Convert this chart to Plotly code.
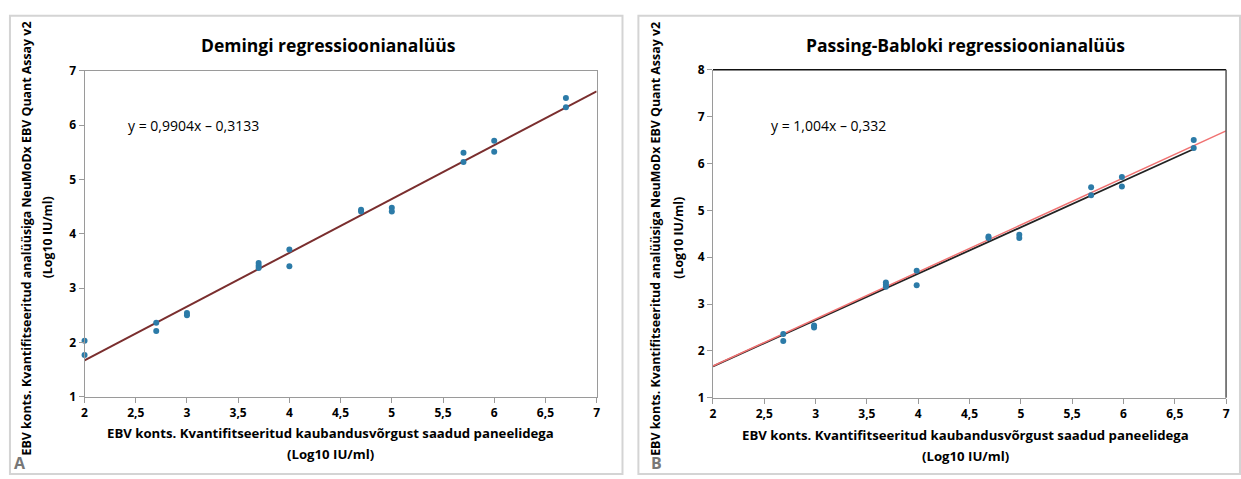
import plotly.graph_objects as go

# ---- data ----
panel_x = [2, 2, 2.7, 2.7, 3, 3, 3.7, 3.7, 3.7, 4, 4, 4.7, 4.7, 5, 5, 5.7, 5.7, 6, 6, 6.7, 6.7]
panel_y = [2.03, 1.77, 2.36, 2.21, 2.54, 2.50, 3.46, 3.41, 3.37, 3.71, 3.40,
           4.44, 4.41, 4.48, 4.41, 5.49, 5.32, 5.71, 5.51, 6.50, 6.33]

deming_slope, deming_intercept = 0.9904, -0.3133
pb_slope, pb_intercept = 1.004, -0.332

titles = ["Demingi regressioonianalüüs", "Passing-Babloki regressioonianalüüs"]
equations = ["y = 0,9904x – 0,3133", "y = 1,004x – 0,332"]
x_tickvals = [2, 2.5, 3, 3.5, 4, 4.5, 5, 5.5, 6, 6.5, 7]
x_ticktext = ["2", "2,5", "3", "3,5", "4", "4,5", "5", "5,5", "6", "6,5", "7"]
yA_tickvals = [1, 2, 3, 4, 5, 6, 7]
yB_tickvals = [1, 2, 3, 4, 5, 6, 7, 8]
x_title_lines = ["EBV konts. Kvantifitseeritud kaubandusvõrgust saadud paneelidega", "(Log10 IU/ml)"]
y_title_lines = ["EBV konts. Kvantifitseeritud analüüsiga NeuMoDx EBV Quant Assay v2", "(Log10 IU/ml)"]

W, H = 1241, 479
FONT = "Open Sans"
PT_COLOR = "#2C7BA8"
AX_COLOR = "#9a9a9a"

def px(x):
    return x / W

def py(y):
    return 1 - y / H

fig = go.Figure()

# Panel A
line_x_A = [2, 7]
fig.add_trace(go.Scatter(x=line_x_A, y=[deming_slope * v + deming_intercept for v in line_x_A],
                         mode="lines", line=dict(color="#7A2E2E", width=2),
                         xaxis="x", yaxis="y", showlegend=False))
fig.add_trace(go.Scatter(x=panel_x, y=panel_y, mode="markers", cliponaxis=False,
                         marker=dict(color=PT_COLOR, size=6),
                         xaxis="x", yaxis="y", showlegend=False))

# Panel B
line_x_B_black = [2, max(panel_x) - 0.02]
line_x_B_red = [2, 7]
fig.add_trace(go.Scatter(x=line_x_B_black, y=[deming_slope * v + deming_intercept for v in line_x_B_black],
                         mode="lines", line=dict(color="#222222", width=1.8),
                         xaxis="x2", yaxis="y2", showlegend=False))
fig.add_trace(go.Scatter(x=line_x_B_red, y=[pb_slope * v + pb_intercept for v in line_x_B_red],
                         mode="lines", line=dict(color="#F07272", width=1.5),
                         xaxis="x2", yaxis="y2", showlegend=False))
fig.add_trace(go.Scatter(x=[v - 0.015 for v in panel_x], y=panel_y, mode="markers", cliponaxis=False,
                         marker=dict(color=PT_COLOR, size=6),
                         xaxis="x2", yaxis="y2", showlegend=False))

tickfont = dict(family=FONT, size=12, color="#000000", weight="bold")
common_axis = dict(showgrid=False, zeroline=False, showline=True, linecolor=AX_COLOR, linewidth=1,
                   ticks="outside", ticklen=5, tickcolor=AX_COLOR, tickwidth=1,
                   tickfont=tickfont)

fig.update_layout(
    width=W, height=H,
    margin=dict(l=0, r=0, t=0, b=0),
    paper_bgcolor="white", plot_bgcolor="white",
    xaxis=dict(domain=[px(82), px(597)], range=[2, 7], tickvals=x_tickvals, ticktext=x_ticktext,
               anchor="y", mirror=True, **common_axis),
    yaxis=dict(domain=[py(402), py(64)], range=[1, 7], tickvals=yA_tickvals,
               anchor="x", mirror=True, **common_axis),
    xaxis2=dict(domain=[px(714), px(1230)], range=[2, 7], tickvals=x_tickvals, ticktext=x_ticktext,
                anchor="y2", **common_axis),
    yaxis2=dict(domain=[py(403), py(63)], range=[1, 8], tickvals=yB_tickvals,
                anchor="x2", **common_axis),
)

shapes = []
# panel frames
shapes.append(dict(type="rect", xref="paper", yref="paper", x0=px(7), x1=px(623), y0=py(482), y1=py(7),
                   line=dict(color="#d4d4d4", width=2), layer="below"))
shapes.append(dict(type="rect", xref="paper", yref="paper", x0=px(639), x1=px(1244), y0=py(482), y1=py(7),
                   line=dict(color="#d4d4d4", width=2), layer="below"))
# panel B top/right border
shapes.append(dict(type="line", xref="x2 domain", yref="y2 domain", x0=0, x1=1, y0=1, y1=1,
                   line=dict(color="#111111", width=1.5)))
shapes.append(dict(type="line", xref="x2 domain", yref="y2 domain", x0=1, x1=1, y0=0, y1=1,
                   line=dict(color="#555555", width=1.5)))
fig.update_layout(shapes=shapes)

ann = []
title_font = dict(family=FONT, size=17.5, color="#000000")
ann.append(dict(text="<b>%s</b>" % titles[0], x=px(327), y=py(37), xref="paper", yref="paper",
                showarrow=False, font=title_font, xanchor="center", yanchor="middle"))
ann.append(dict(text="<b>%s</b>" % titles[1], x=px(968), y=py(37), xref="paper", yref="paper",
                showarrow=False, font=title_font, xanchor="center", yanchor="middle"))

eq_font = dict(family=FONT, size=14, color="#000000")
ann.append(dict(text=equations[0], x=px(124), y=py(121), xref="paper", yref="paper",
                showarrow=False, font=eq_font, xanchor="left", yanchor="middle"))
ann.append(dict(text=equations[1], x=px(770), y=py(121), xref="paper", yref="paper",
                showarrow=False, font=eq_font, xanchor="left", yanchor="middle"))

lab_font = dict(family=FONT, size=13.2, color="#000000")
for cx, y1, y2 in [(329, 440, 461), (968, 442, 463)]:
    ann.append(dict(text="<b>%s</b>" % x_title_lines[0], x=px(cx), y=py(y1), xref="paper", yref="paper",
                    showarrow=False, font=lab_font, xanchor="center", yanchor="middle"))
    ann.append(dict(text="<b>%s</b>" % x_title_lines[1], x=px(cx), y=py(y2), xref="paper", yref="paper",
                    showarrow=False, font=lab_font, xanchor="center", yanchor="middle"))
ylab_font = dict(family=FONT, size=12.4, color="#000000")
for x1, x2 in [(24, 45), (656, 679)]:
    ann.append(dict(text="<b>%s</b>" % y_title_lines[0], x=px(x1), y=py(238), xref="paper", yref="paper",
                    showarrow=False, font=ylab_font, textangle=-90, xanchor="center", yanchor="middle"))
    ann.append(dict(text="<b>%s</b>" % y_title_lines[1], x=px(x2), y=py(237), xref="paper", yref="paper",
                    showarrow=False, font=ylab_font, textangle=-90, xanchor="center", yanchor="middle"))

letter_font = dict(family=FONT, size=16, color="#777777")
ann.append(dict(text="<b>A</b>", x=px(17), y=py(471), xref="paper", yref="paper",
                showarrow=False, font=letter_font, xanchor="center", yanchor="middle"))
ann.append(dict(text="<b>B</b>", x=px(657), y=py(471), xref="paper", yref="paper",
                showarrow=False, font=letter_font, xanchor="center", yanchor="middle"))
fig.update_layout(annotations=ann)

fig.write_html("out.html", config={"displayModeBar": False},
               post_script="document.body.style.margin='0';document.body.style.overflow='hidden';")
